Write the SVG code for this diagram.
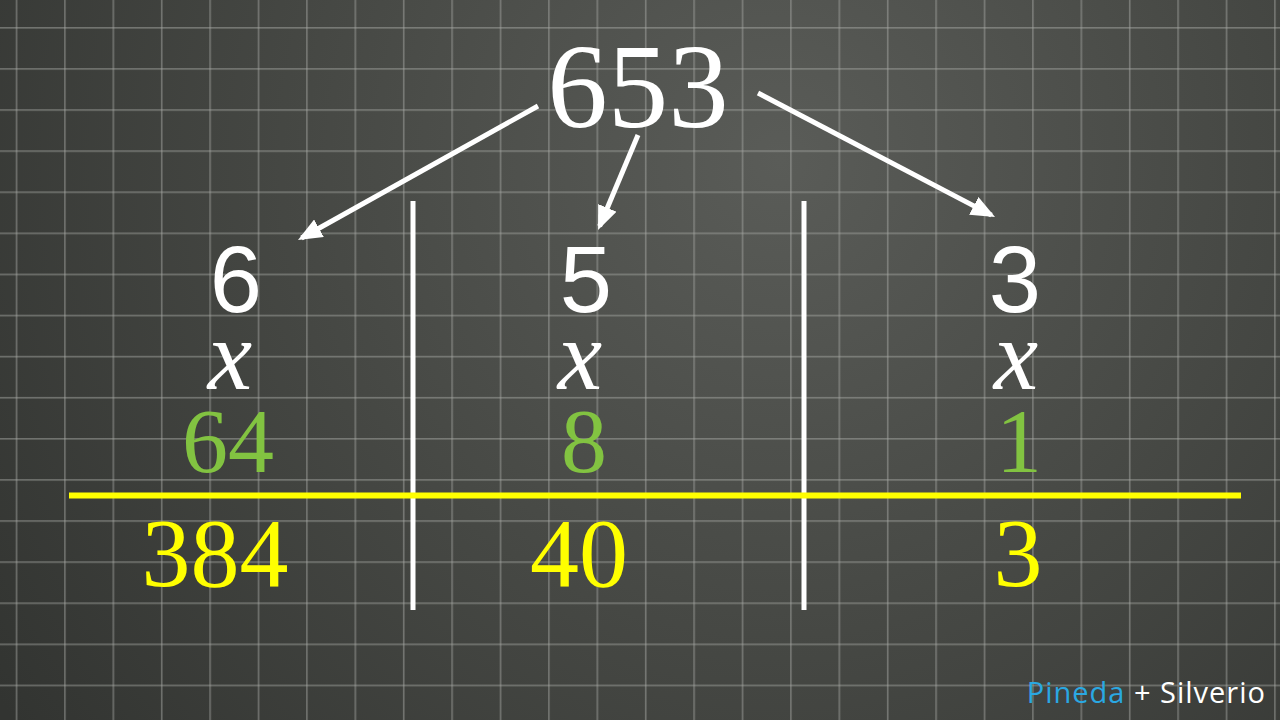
<svg xmlns="http://www.w3.org/2000/svg" width="1280" height="720" viewBox="0 0 1280 720">
<defs>
<radialGradient id="bg" cx="780" cy="160" r="950" gradientUnits="userSpaceOnUse">
<stop offset="0" stop-color="#5a5c58"/>
<stop offset="0.5" stop-color="#464844"/>
<stop offset="1" stop-color="#323431"/>
</radialGradient>
<pattern id="grid" patternUnits="userSpaceOnUse" x="15.7" y="27" width="48.4" height="41.1">
<rect x="0" y="0" width="1.6" height="41.1" fill="#a8aaa6" fill-opacity="0.5"/>
<rect x="0" y="0" width="48.4" height="1.6" fill="#a8aaa6" fill-opacity="0.5"/>
</pattern>
<marker id="ah" viewBox="0 0 24 20" refX="20" refY="10" markerWidth="24" markerHeight="20" markerUnits="userSpaceOnUse" orient="auto">
<path d="M0,0 L24,10 L0,20 z" fill="#ffffff"/>
</marker>
<style>
.num{font-family:"Liberation Serif","DejaVu Serif",serif;text-anchor:middle}
.sans{font-family:"Liberation Sans","DejaVu Sans",sans-serif;text-anchor:middle;fill:#ffffff}
.var{font-family:"Liberation Serif","DejaVu Serif",serif;font-style:italic;text-anchor:middle;fill:#ffffff}
.w{fill:#ffffff}
.g{fill:#82c341}
.y{fill:#ffff00}
.arrow{stroke:#ffffff;stroke-width:5;fill:none;marker-end:url(#ah)}
.div{stroke:#ffffff;stroke-width:5}
</style>
</defs>
<rect width="1280" height="720" fill="url(#bg)"/>
<rect width="1280" height="720" fill="url(#grid)"/>

<g id="top-number">
<text class="num w" x="638" y="127" font-size="121">653</text>
</g>

<g id="connectors">
<line class="arrow" x1="538" y1="106" x2="301.5" y2="238"/>
<line class="arrow" x1="638" y1="135" x2="599.6" y2="226.3"/>
<line class="arrow" x1="758" y1="93" x2="991.5" y2="215.1"/>
<line class="div" x1="413" y1="201" x2="413" y2="610"/>
<line class="div" x1="804" y1="201" x2="804" y2="610"/>
<line x1="69" y1="495.5" x2="1241" y2="495.5" stroke="#ffff00" stroke-width="6"/>
</g>

<g id="col-hundreds">
<text class="sans" x="236" y="312" font-size="94">6</text>
<text class="var" x="230" y="389" font-size="100">x</text>
<text class="num g" x="228" y="472" font-size="92">64</text>
<text class="num y" x="215" y="586" font-size="98">384</text>
</g>

<g id="col-tens">
<text class="sans" x="586" y="312" font-size="94">5</text>
<text class="var" x="580" y="389" font-size="100">x</text>
<text class="num g" x="584" y="472" font-size="92">8</text>
<text class="num y" x="579" y="586" font-size="98">40</text>
</g>

<g id="col-units">
<text class="sans" x="1015" y="312" font-size="94">3</text>
<text class="var" x="1016" y="389" font-size="100">x</text>
<text class="num g" x="1019" y="472" font-size="92">1</text>
<text class="num y" x="1018" y="586" font-size="98">3</text>
</g>

<g id="credit">
<text x="1266" y="703" font-family="'Open Sans','DejaVu Sans',sans-serif" font-size="29" letter-spacing="1" text-anchor="end"><tspan fill="#2aa8e2">Pineda</tspan><tspan fill="#ffffff"> + Silverio</tspan></text>
</g>
</svg>
